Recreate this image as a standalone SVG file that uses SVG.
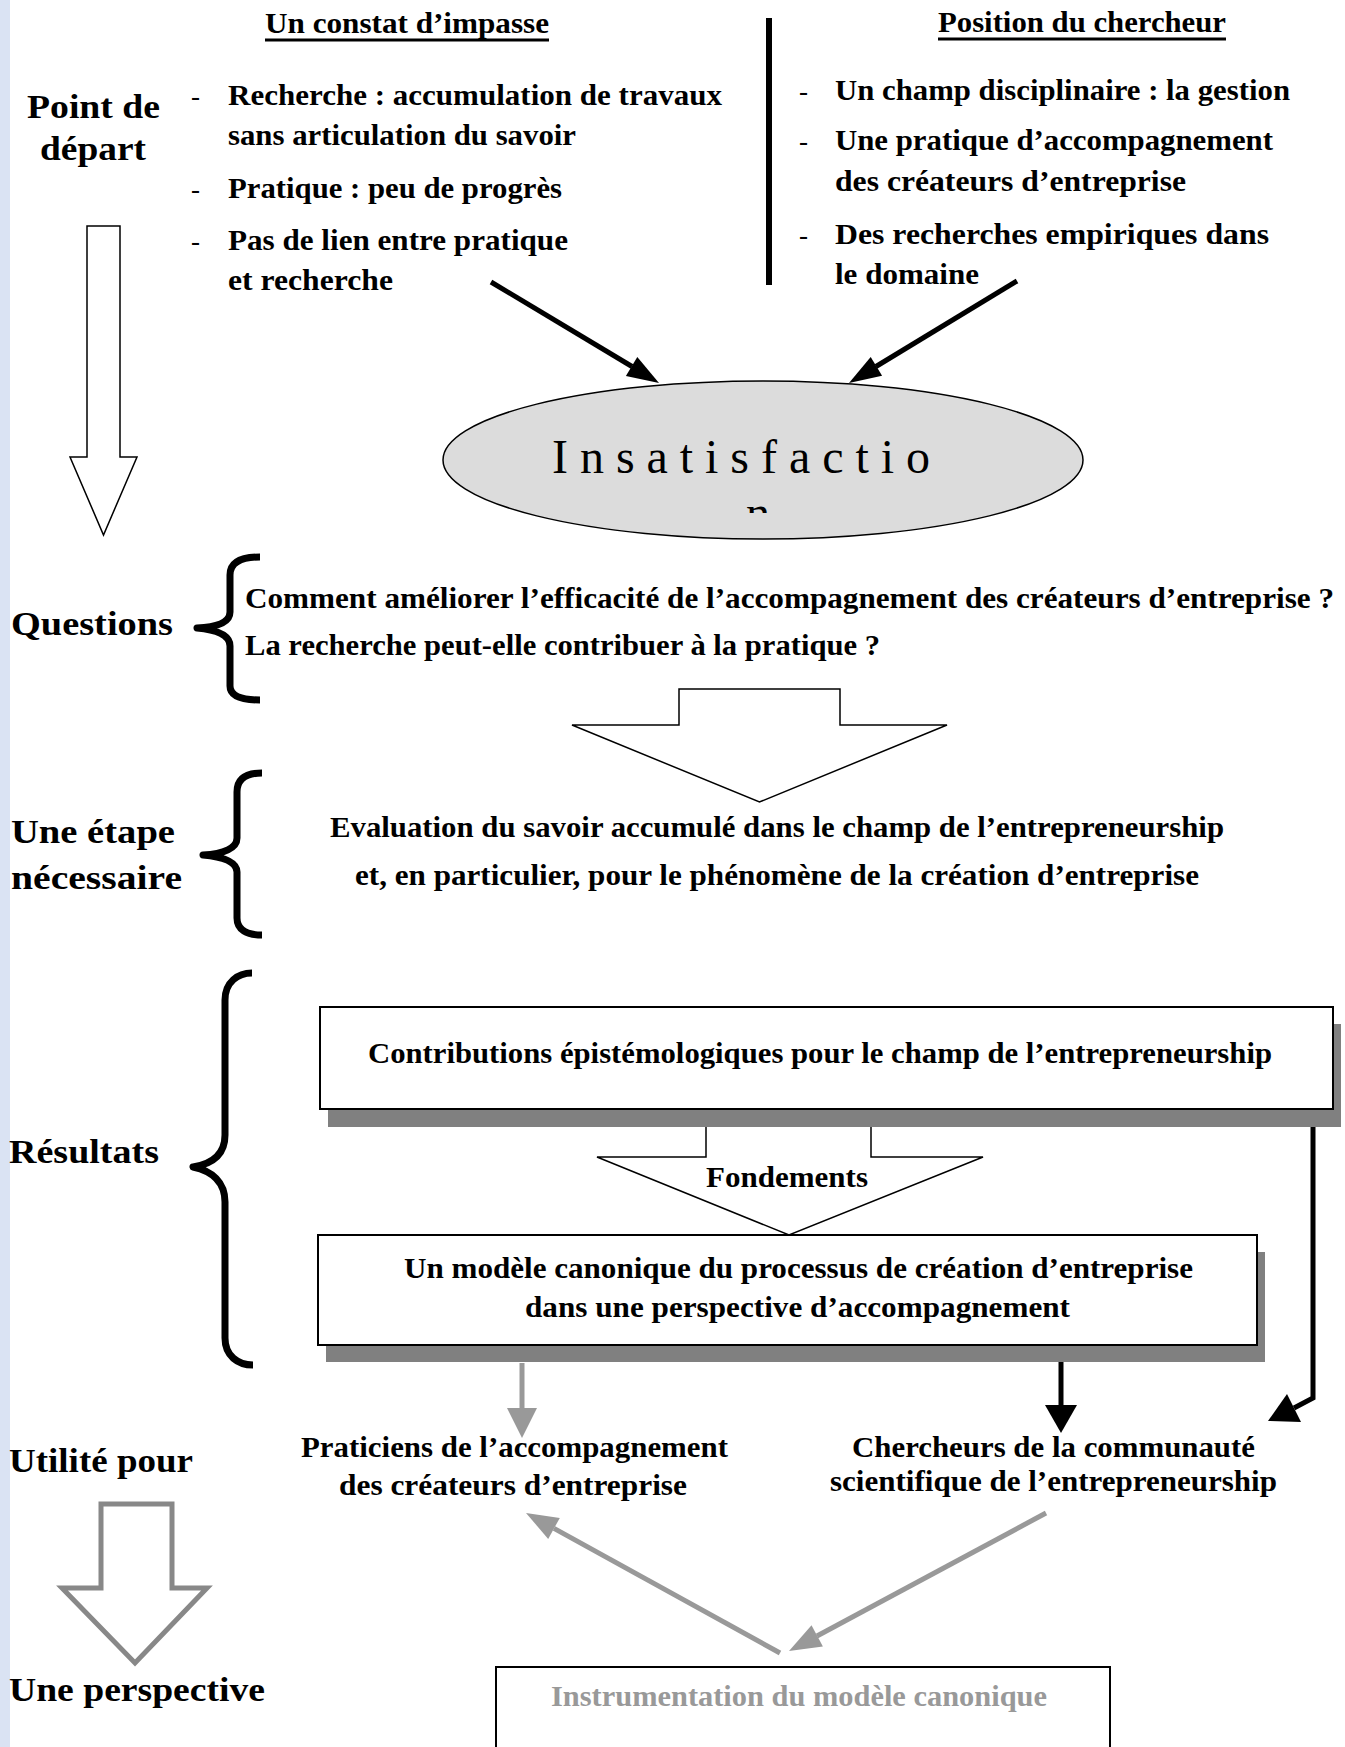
<svg xmlns="http://www.w3.org/2000/svg" width="1345" height="1747" viewBox="0 0 1345 1747">
<defs>
<style>
.t{font-family:"Liberation Serif","Times New Roman",serif;font-weight:bold;font-size:29px;fill:#000}
.lbl{font-size:33px}
.dash{font-weight:normal;font-size:27px}
.gray{fill:#999}
.box{fill:#fff;stroke:#000;stroke-width:2}
.shadow{fill:#808080}
.hollow{fill:#fff;stroke:#000;stroke-width:1.5;stroke-linejoin:miter}
.blk{stroke:#000;stroke-width:5;fill:none}
.gry{stroke:#999;stroke-width:5;fill:none}
.brace{stroke:#000;stroke-width:7;fill:none;stroke-linejoin:round;stroke-linecap:butt}
</style>
<clipPath id="nclip"><rect x="700" y="500" width="120" height="13"/></clipPath>
</defs>
<rect x="0" y="0" width="1345" height="1747" fill="#fff"/>
<rect x="0" y="0" width="10" height="1747" fill="#dae3f3"/>

<g id="header-impasse">
<text class="t" x="265" y="33" textLength="284" lengthAdjust="spacingAndGlyphs">Un constat d’impasse</text>
<rect x="265" y="38.5" width="284" height="3"/>
</g>
<g id="header-position">
<text class="t" x="938" y="32" textLength="288" lengthAdjust="spacingAndGlyphs">Position du chercheur</text>
<rect x="938" y="37.5" width="288" height="3"/>
</g>
<rect id="divider" x="766" y="18" width="6" height="267" fill="#000"/>

<g id="label-point-depart">
<text class="t lbl" x="27" y="118" textLength="133" lengthAdjust="spacingAndGlyphs">Point de</text>
<text class="t lbl" x="40" y="160" textLength="106" lengthAdjust="spacingAndGlyphs">départ</text>
</g>

<g id="list-impasse">
<text class="t dash" x="191" y="105">-</text>
<text class="t" x="228" y="105" textLength="494" lengthAdjust="spacingAndGlyphs">Recherche : accumulation de travaux</text>
<text class="t" x="228" y="145" textLength="348" lengthAdjust="spacingAndGlyphs">sans articulation du savoir</text>
<text class="t dash" x="191" y="198">-</text>
<text class="t" x="228" y="198" textLength="334" lengthAdjust="spacingAndGlyphs">Pratique : peu de progrès</text>
<text class="t dash" x="191" y="250">-</text>
<text class="t" x="228" y="250" textLength="340" lengthAdjust="spacingAndGlyphs">Pas de lien entre pratique</text>
<text class="t" x="228" y="290" textLength="165" lengthAdjust="spacingAndGlyphs">et recherche</text>
</g>

<g id="list-position">
<text class="t dash" x="799" y="100">-</text>
<text class="t" x="835" y="100" textLength="455" lengthAdjust="spacingAndGlyphs">Un champ disciplinaire : la gestion</text>
<text class="t dash" x="799" y="150">-</text>
<text class="t" x="835" y="150" textLength="438" lengthAdjust="spacingAndGlyphs">Une pratique d’accompagnement</text>
<text class="t" x="835" y="191" textLength="351" lengthAdjust="spacingAndGlyphs">des créateurs d’entreprise</text>
<text class="t dash" x="799" y="244">-</text>
<text class="t" x="835" y="244" textLength="434" lengthAdjust="spacingAndGlyphs">Des recherches empiriques dans</text>
<text class="t" x="835" y="284" textLength="144" lengthAdjust="spacingAndGlyphs">le domaine</text>
</g>

<g id="arrow-flow-left">
<polygon class="hollow" points="87,226 120,226 120,457 137,457 103.5,535 70,457 87,457"/>
</g>

<g id="insatisfaction">
<ellipse cx="763" cy="460" rx="320" ry="79" fill="#dcdcdc" stroke="#000" stroke-width="1.5"/>
<text x="552" y="473" textLength="378" lengthAdjust="spacing" style="font-family:'Liberation Serif','Times New Roman',serif;font-size:48px;fill:#000">Insatisfactio</text>
<text x="758" y="529" text-anchor="middle" clip-path="url(#nclip)" style="font-family:'Liberation Serif','Times New Roman',serif;font-size:48px;fill:#000">n</text>
</g>

<g id="label-questions">
<text class="t lbl" x="11" y="635" textLength="162" lengthAdjust="spacingAndGlyphs">Questions</text>
<path class="brace" d="M260,557 C242,557 230,562 230,575 L230,612 C230,622 218,627 197,628 C218,630 230,636 230,646 L230,686 C230,696 242,700 260,700"/>
</g>
<g id="questions">
<text class="t" x="245" y="608" textLength="1089" lengthAdjust="spacingAndGlyphs">Comment améliorer l’efficacité de l’accompagnement des créateurs d’entreprise ?</text>
<text class="t" x="245" y="655" textLength="635" lengthAdjust="spacingAndGlyphs">La recherche peut-elle contribuer à la pratique ?</text>
</g>

<g id="arrow-big">
<polygon class="hollow" points="679,689 840,689 840,725 947,725 759.5,802 572,725 679,725"/>
</g>

<g id="label-etape">
<text class="t lbl" x="11" y="843" textLength="164" lengthAdjust="spacingAndGlyphs">Une étape</text>
<text class="t lbl" x="11" y="889" textLength="171" lengthAdjust="spacingAndGlyphs">nécessaire</text>
<path class="brace" d="M262,773 C247,773 237,778 237,792 L237,838 C237,848 224,854 203,855 C224,857 237,862 237,872 L237,918 C237,930 247,935 262,935"/>
</g>
<g id="evaluation">
<text class="t" x="330" y="837" textLength="894" lengthAdjust="spacingAndGlyphs">Evaluation du savoir accumulé dans le champ de l’entrepreneurship</text>
<text class="t" x="355" y="885" textLength="844" lengthAdjust="spacingAndGlyphs">et, en particulier, pour le phénomène de la création d’entreprise</text>
</g>

<g id="label-resultats">
<text class="t lbl" x="9" y="1163" textLength="150" lengthAdjust="spacingAndGlyphs">Résultats</text>
<path class="brace" d="M252,973 C238,973 225,982 225,1000 L225,1135 C225,1155 212,1164 193,1167 C212,1171 225,1182 225,1202 L225,1338 C225,1356 238,1365 253,1365"/>
</g>

<g id="box-contributions">
<rect class="shadow" x="328" y="1024" width="1013" height="103"/>
<rect class="box" x="320" y="1007" width="1013" height="102"/>
<text class="t" x="368" y="1063" textLength="904" lengthAdjust="spacingAndGlyphs">Contributions épistémologiques pour le champ de l’entrepreneurship</text>
</g>

<g id="arrow-fondements">
<path class="hollow" d="M706,1127 V1157 H597 L789,1235 L983,1157 H871 V1127"/>
<text class="t" x="706" y="1187" textLength="162" lengthAdjust="spacingAndGlyphs">Fondements</text>
</g>

<g id="box-modele">
<rect class="shadow" x="326" y="1252" width="939" height="110"/>
<rect class="box" x="318" y="1235" width="939" height="110"/>
<text class="t" x="404" y="1278" textLength="789" lengthAdjust="spacingAndGlyphs">Un modèle canonique du processus de création d’entreprise</text>
<text class="t" x="525" y="1317" textLength="545" lengthAdjust="spacingAndGlyphs">dans une perspective d’accompagnement</text>
</g>

<g id="label-utilite">
<text class="t lbl" x="9" y="1472" textLength="184" lengthAdjust="spacingAndGlyphs">Utilité pour</text>
</g>
<g id="praticiens">
<text class="t" x="301" y="1457" textLength="427" lengthAdjust="spacingAndGlyphs">Praticiens de l’accompagnement</text>
<text class="t" x="339" y="1495" textLength="348" lengthAdjust="spacingAndGlyphs">des créateurs d’entreprise</text>
</g>
<g id="chercheurs">
<text class="t" x="852" y="1457" textLength="403" lengthAdjust="spacingAndGlyphs">Chercheurs de la communauté</text>
<text class="t" x="830" y="1491" textLength="447" lengthAdjust="spacingAndGlyphs">scientifique de l’entrepreneurship</text>
</g>

<g id="arrow-flow-gray">
<polygon points="101,1504 172,1504 172,1588 207,1588 135,1663 62,1588 101,1588" fill="#fff" stroke="#888" stroke-width="5" stroke-linejoin="miter"/>
</g>

<g id="label-perspective">
<text class="t lbl" x="9" y="1701" textLength="256" lengthAdjust="spacingAndGlyphs">Une perspective</text>
</g>

<g id="box-instrumentation">
<rect class="box" x="496" y="1667" width="614" height="110"/>
<text class="t gray" x="551" y="1706" textLength="496" lengthAdjust="spacingAndGlyphs">Instrumentation du modèle canonique</text>
</g>

<g id="connectors">
<line class="blk" x1="491" y1="282" x2="632" y2="366.5"/>
<polygon points="659,383 625.9,375.9 637.3,357.1"/>
<line class="blk" x1="1017" y1="281" x2="876" y2="366.5"/>
<polygon points="849,383 870.7,357 882.1,375.8"/>
<path class="blk" d="M1313,1127 V1398 L1294,1408" stroke-width="6"/>
<polygon points="1268,1421 1287,1394 1301,1422"/>
<line class="blk" x1="1061" y1="1362" x2="1061" y2="1406"/>
<polygon points="1045,1405 1077,1405 1061,1433"/>
<line class="gry" x1="522" y1="1363" x2="522" y2="1410"/>
<polygon points="507,1408 537,1408 522,1438" fill="#999"/>
<line class="gry" x1="1046" y1="1513" x2="817" y2="1636"/>
<polygon points="789,1651 811.5,1625.3 822.9,1646.5" fill="#999"/>
<line class="gry" x1="780" y1="1653" x2="554" y2="1528.4"/>
<polygon points="526,1513 559.8,1517.9 548.2,1538.9" fill="#999"/>
</g>
</svg>
